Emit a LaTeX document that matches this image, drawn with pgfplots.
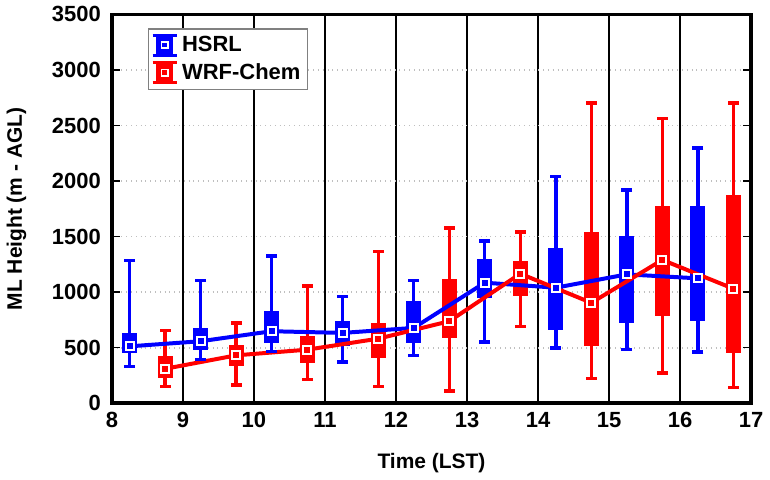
\documentclass[border=0pt]{standalone}
\usepackage{pgfplots}
\pgfplotsset{compat=1.18}
\usepackage{pgfplotstable}
\usepackage{fontspec}
\setmainfont{Liberation Sans}

% x, lower whisker, lower quartile, median, upper quartile, upper whisker
\pgfplotstableread{
x     lw   lq   med  uq   uw
8.25  332  452  512  633  1286
9.25  392  482  558  678  1106
10.25 467  542  648  834  1326
11.25 371  512  633  738  958
12.25 431  542  678  919  1106
13.25 551  949  1085 1296 1462
14.25 497  657  1040 1395 2040
15.25 482  723  1160 1507 1919
16.25 461  738  1124 1778 2299
}\hsrl
\pgfplotstableread{
x     lw   lq   med  uq   uw
8.75  151  226  310  422  654
9.75  165  332  431  527  723
10.75 211  362  482  603  1055
11.75 151  407  581  723  1365
12.75 111  588  738  1115 1576
13.75 693  965  1166 1281 1543
14.75 220  512  904  1537 2703
15.75 271  784  1290 1778 2561
16.75 142  452  1031 1877 2703
}\wrf

\pgfplotsset{
  whisk/.style={color=#1, only marks, mark=none, forget plot,
    error bars/.cd, y dir=both, y explicit, error mark=none,
    error bar style={draw=#1, line width=1.7pt}},
  caps/.style={color=#1, only marks, mark=-, mark size=2.7pt, forget plot,
    mark options={draw=#1, line width=1.7pt}},
  boxes/.style={color=#1, only marks, mark=none, forget plot,
    error bars/.cd, y dir=both, y explicit, error mark=none,
    error bar style={draw=#1, line width=7.4bp}},
  medline/.style={#1, line width=2pt, mark=square*, mark size=2pt, forget plot,
    mark options={fill=#1, draw=white, line width=0.9pt}},
}
\newcommand{\legicon}[1]{%
  \draw[#1, line width=1.4pt] (0bp,-5bp) -- (12bp,-5bp) (0bp,5bp) -- (12bp,5bp);
  \fill[#1] (2bp,-5.5bp) rectangle (10bp,5.5bp);
  \draw[white, line width=0.9pt] (4.4bp,-1.6bp) rectangle (7.6bp,1.6bp);}

\begin{document}
\begin{tikzpicture}
\begin{axis}[
    scale only axis,
    width=319bp, height=194bp,
    xmin=8, xmax=17, ymin=0, ymax=3500,
    xtick={8,...,17}, ytick={0,500,...,3500},
    xmajorgrids, ymajorgrids,
    x grid style={black, line width=0.9pt},
    y grid style={gray!50, dotted, line width=0.9pt},
    axis line style={line width=1.8pt},
    tick style={black, line width=0.8pt},
    tick align=inside,
    xtick pos=bottom,
    ytick pos=both,
    /pgf/number format/assume math mode=true,
    /pgf/number format/1000 sep={},
    tick label style={font=\bfseries\fontsize{11}{12}\selectfont},
    yticklabel style={xshift=-2bp},
    xticklabel style={yshift=-1bp},
    xlabel={Time (LST)}, ylabel={ML Height (m - AGL)},
    xlabel style={font=\bfseries\fontsize{10.5}{12}\selectfont, yshift=-6pt},
    ylabel style={font=\bfseries\fontsize{10.5}{12}\selectfont, yshift=6pt},
    legend style={at={(0.056,0.964)}, anchor=north west, draw=gray, line width=0.6pt,
      font=\bfseries\fontsize{11}{12}\selectfont, inner sep=1.5pt, row sep=0.5pt},
    legend cell align=left,
]
\addlegendimage{legend image code/.code={\legicon{blue}}}
\addlegendentry{HSRL}
\addlegendimage{legend image code/.code={\legicon{red}}}
\addlegendentry{WRF-Chem}

% whiskers and their caps
\addplot[whisk=blue] table[x=x, y=med,
  y error plus expr=\thisrow{uw}-\thisrow{med},
  y error minus expr=\thisrow{med}-\thisrow{lw}] {\hsrl};
\addplot[whisk=red] table[x=x, y=med,
  y error plus expr=\thisrow{uw}-\thisrow{med},
  y error minus expr=\thisrow{med}-\thisrow{lw}] {\wrf};
\addplot[caps=blue] table[x=x, y=uw] {\hsrl};
\addplot[caps=blue] table[x=x, y=lw] {\hsrl};
\addplot[caps=red] table[x=x, y=uw] {\wrf};
\addplot[caps=red] table[x=x, y=lw] {\wrf};
% boxes
\addplot[boxes=blue] table[x=x, y=med,
  y error plus expr=\thisrow{uq}-\thisrow{med},
  y error minus expr=\thisrow{med}-\thisrow{lq}] {\hsrl};
\addplot[boxes=red] table[x=x, y=med,
  y error plus expr=\thisrow{uq}-\thisrow{med},
  y error minus expr=\thisrow{med}-\thisrow{lq}] {\wrf};
% medians
\addplot[medline=blue] table[x=x, y=med] {\hsrl};
\addplot[medline=red] table[x=x, y=med] {\wrf};
\end{axis}
\end{tikzpicture}
\end{document}
